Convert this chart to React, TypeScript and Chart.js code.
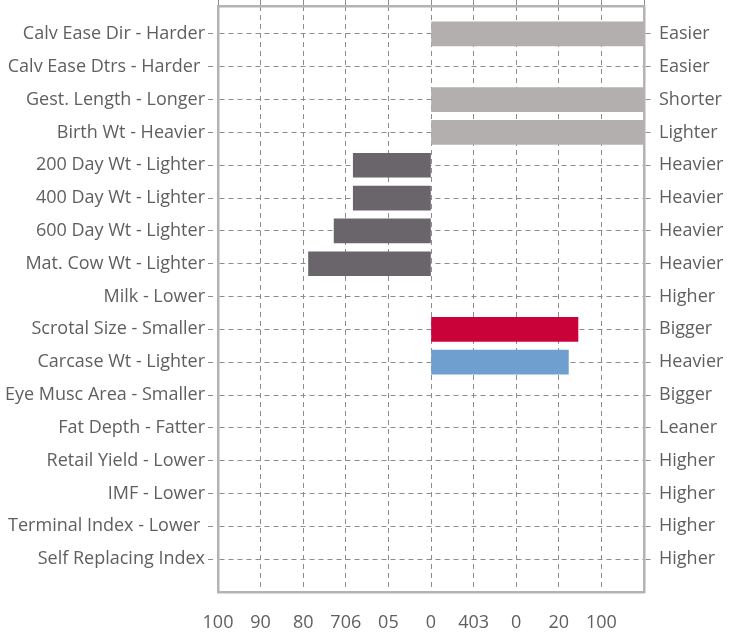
import React, { useEffect, useRef } from "react";
import { Chart, registerables } from "chart.js";

Chart.register(...registerables);

const leftLabels = [
  "Calv Ease Dir - Harder",
  "Calv Ease Dtrs - Harder ",
  "Gest. Length - Longer",
  "Birth Wt - Heavier",
  "200 Day Wt - Lighter",
  "400 Day Wt - Lighter",
  "600 Day Wt - Lighter",
  "Mat. Cow Wt - Lighter",
  "Milk - Lower",
  "Scrotal Size - Smaller",
  "Carcase Wt - Lighter",
  "Eye Musc Area - Smaller",
  "Fat Depth - Fatter",
  "Retail Yield - Lower",
  "IMF - Lower",
  "Terminal Index - Lower ",
  "Self Replacing Index",
];

const rightLabels = [
  "Easier",
  "Easier",
  "Shorter",
  "Lighter",
  "Heavier",
  "Heavier",
  "Heavier",
  "Heavier",
  "Higher",
  "Bigger",
  "Heavier",
  "Bigger",
  "Leaner",
  "Higher",
  "Higher",
  "Higher",
  "Higher",
];

const values: (number | null)[] = [
  100, null, 100, 100, -36.5, -36.5, -45.5, -57.5, null, 69, 64.5,
  null, null, null, null, null, null,
];

const barColors = [
  "#b3afae", "#b3afae", "#b3afae", "#b3afae",
  "#6a656b", "#6a656b", "#6a656b", "#6a656b", "#6a656b",
  "#c9033a", "#6f9fcf",
  "#6a656b", "#6a656b", "#6a656b", "#6a656b", "#6a656b", "#6a656b",
];

const xTickValues = [-100, -80, -60, -40, -20, 0, 20, 40, 60, 80, 100];
const xTickLabels = ["100", "90", "80", "706", "05", "0", "403", "0", "20", "100", ""];

const FONT = "'Open Sans'";
const FSIZE = 18;
const TEXT = "#5f5e61";
const GRID = "#8c8c8c";
const BORDER = "#b5b2b2";
const DASH = [5, 4];

const noPad = (axis: any) => {
  axis.paddingTop = 0;
  axis.paddingBottom = 0;
  axis.paddingLeft = 0;
  axis.paddingRight = 0;
};

export default function App() {
  const ref = useRef<HTMLCanvasElement | null>(null);

  useEffect(() => {
    document.body.style.margin = "0";
    const ctx = ref.current!.getContext("2d")!;
    const yRange = { min: -0.85, max: 17.0 };
    const chart = new Chart(ctx, {
      type: "bar",
      data: {
        datasets: [
          {
            data: values.map((v, i) => ({ x: v as any, y: i })),
            backgroundColor: barColors,
            borderWidth: 0,
            barThickness: 24,
          } as any,
        ],
      },
      options: {
        indexAxis: "y",
        animation: false,
        responsive: false,
        maintainAspectRatio: false,
        layout: { padding: 0 },
        plugins: {
          legend: { display: false },
          tooltip: { enabled: false },
          title: { display: false },
        },
        scales: {
          x: {
            type: "linear",
            position: "bottom",
            min: -100,
            max: 100,
            offset: false,
            afterBuildTicks: (axis: any) => {
              axis.ticks = xTickValues.map((v) => ({ value: v }));
            },
            afterFit: (axis: any) => {
              axis.height = 45;
              noPad(axis);
            },
            ticks: {
              callback: (v: any) => xTickLabels[xTickValues.indexOf(Number(v))] ?? "",
              font: { family: FONT, size: FSIZE },
              color: TEXT,
              padding: 20,
              maxRotation: 0,
              autoSkip: false,
            },
            grid: {
              color: GRID,
              lineWidth: 1,
              drawTicks: false,
              offset: false,
            },
            border: { display: true, color: BORDER, width: 2.5, dash: DASH },
          },
          x2: {
            type: "linear",
            position: "top",
            min: -100,
            max: 100,
            offset: false,
            afterBuildTicks: (axis: any) => {
              axis.ticks = xTickValues.map((v) => ({ value: v }));
            },
            afterFit: (axis: any) => {
              axis.height = 6;
              noPad(axis);
            },
            ticks: { display: false, padding: 0 },
            grid: {
              color: GRID,
              drawOnChartArea: false,
              drawTicks: true,
              tickLength: 6,
              tickBorderDash: DASH,
              offset: false,
            },
            border: { display: true, color: BORDER, width: 2.5 },
          },
          y: {
            type: "linear",
            position: "left",
            reverse: true,
            min: yRange.min,
            max: yRange.max,
            offset: false,
            afterBuildTicks: (axis: any) => {
              axis.ticks = leftLabels.map((_, i) => ({ value: i }));
            },
            afterFit: (axis: any) => {
              axis.width = 218;
              noPad(axis);
            },
            ticks: {
              callback: (v: any) => leftLabels[Number(v)] ?? "",
              font: { family: FONT, size: FSIZE },
              color: TEXT,
              padding: 3,
              autoSkip: false,
            },
            grid: {
              color: GRID,
              lineWidth: 1,
              drawTicks: true,
              tickLength: 10,
              tickBorderDash: DASH,
              offset: false,
            },
            border: { display: true, color: BORDER, width: 2.5, dash: DASH },
          },
          y2: {
            type: "linear",
            position: "right",
            reverse: true,
            min: yRange.min,
            max: yRange.max,
            offset: false,
            afterBuildTicks: (axis: any) => {
              axis.ticks = rightLabels.map((_, i) => ({ value: i }));
            },
            afterFit: (axis: any) => {
              axis.width = 87;
              noPad(axis);
            },
            ticks: {
              callback: (v: any) => rightLabels[Number(v)] ?? "",
              font: { family: FONT, size: FSIZE },
              color: TEXT,
              padding: 5,
              autoSkip: false,
            },
            grid: {
              color: GRID,
              lineWidth: 1,
              drawOnChartArea: false,
              drawTicks: true,
              tickLength: 10,
              tickBorderDash: DASH,
              offset: false,
            },
            border: { display: true, color: BORDER, width: 2.5 },
          },
        },
      } as any,
    });
    return () => chart.destroy();
  }, []);

  return (
    <div style={{ position: "relative", width: 731, height: 637 }}>
      <canvas ref={ref} width={731} height={637} style={{ width: 731, height: 637, display: "block" }} />
    </div>
  );
}
